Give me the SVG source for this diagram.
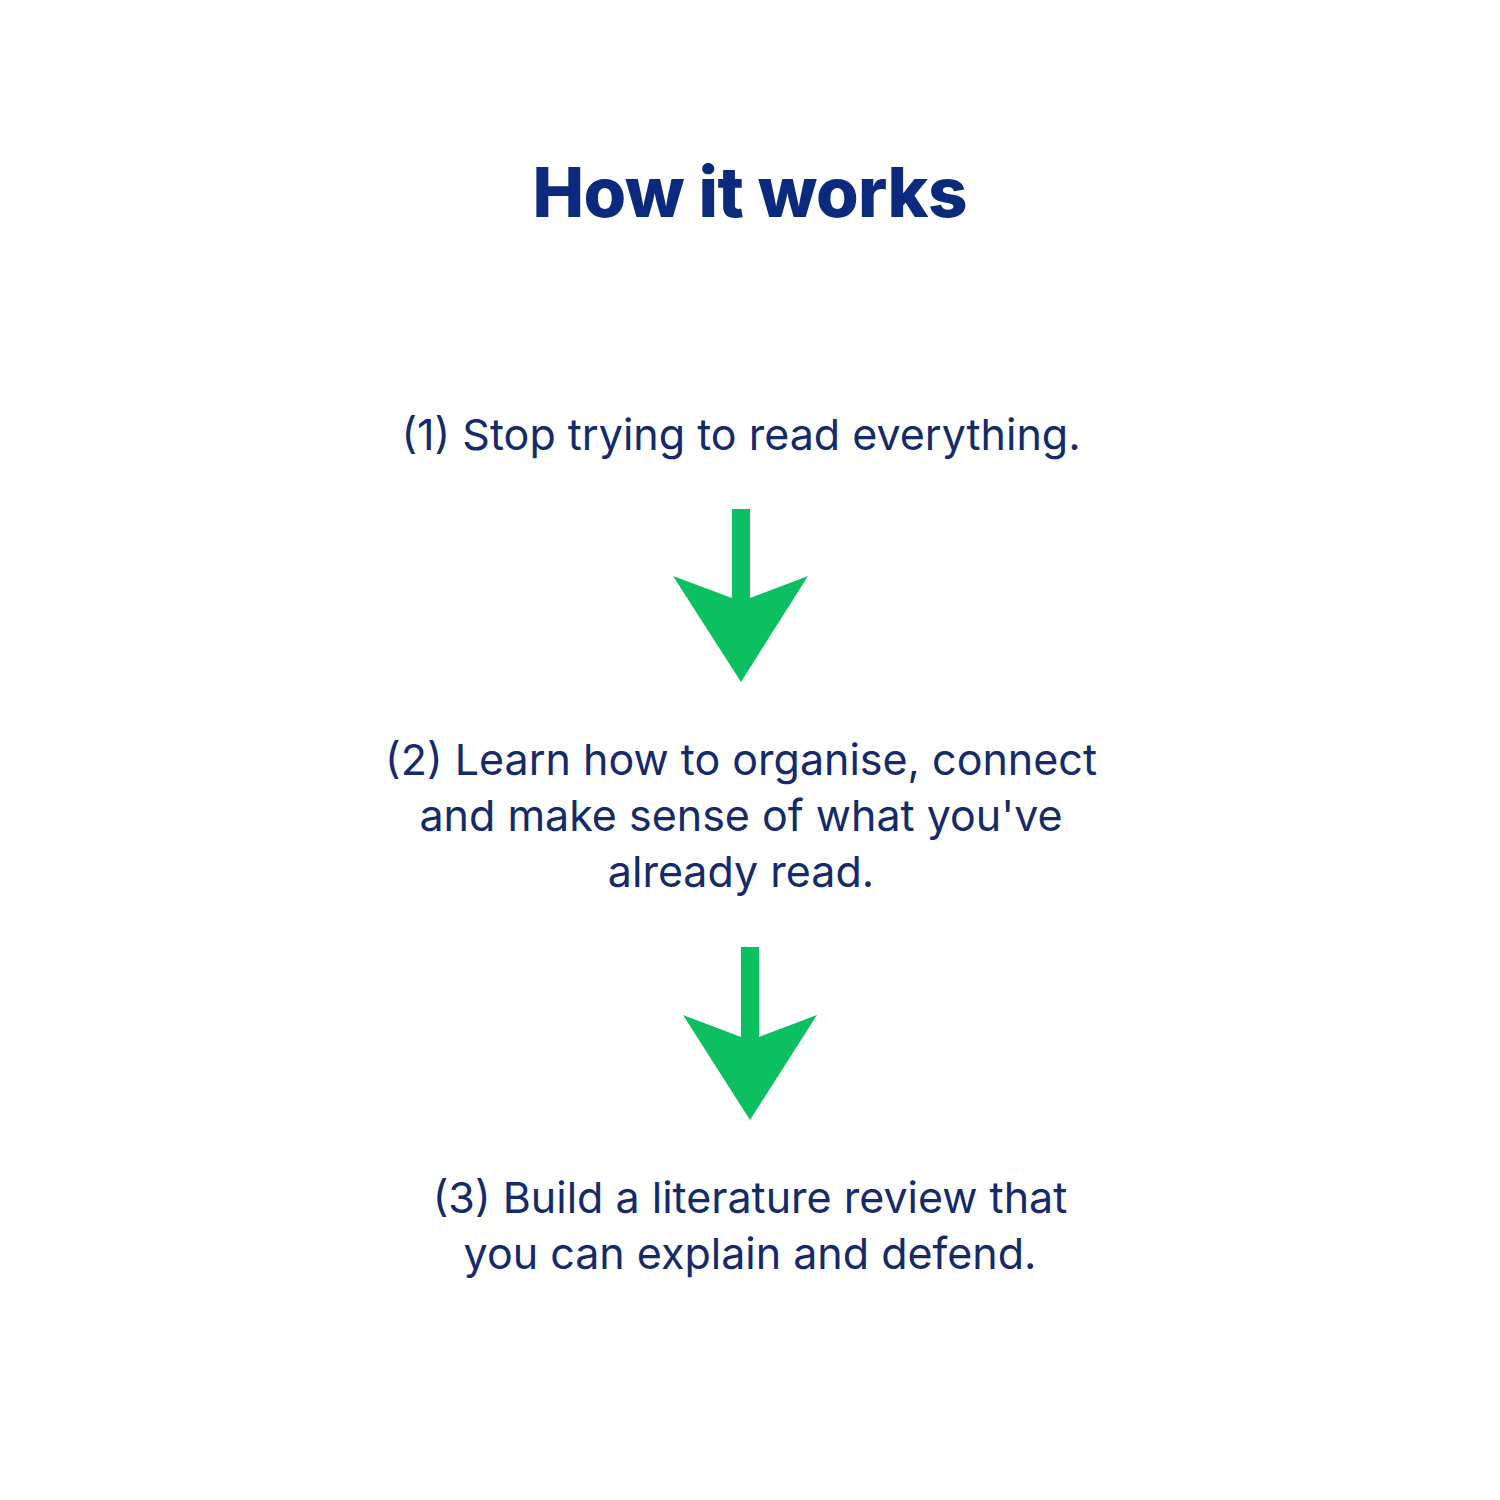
<svg xmlns="http://www.w3.org/2000/svg" width="1500" height="1500" viewBox="0 0 1500 1500">
<style>
.title{font-family:Inter,"Liberation Sans",sans-serif;font-weight:800;font-size:69px;fill:#0b2a7e;text-anchor:middle}
.body{font-family:Inter,"Liberation Sans",sans-serif;font-weight:400;font-size:43px;fill:#142a6a;text-anchor:middle}
.arrow{fill:#0cc062}
</style>
<rect width="1500" height="1500" fill="#ffffff"/>
<g id="title"><text class="title" x="750" y="217" textLength="435">How it works</text></g>
<g id="step1"><text class="body" x="741" y="450">(1) Stop trying to read everything.</text></g>
<g id="step2"><text class="body" x="741" y="775">(2) Learn how to organise, connect</text><text class="body" x="741" y="831">and make sense of what you've</text><text class="body" x="741" y="887">already read.</text></g>
<g id="step3"><text class="body" x="750" y="1213">(3) Build a literature review that</text><text class="body" x="750" y="1269">you can explain and defend.</text></g>
<g id="connectors">
<polygon class="arrow" points="732,509 750,509 750,598 808,576 741,682 673,576 732,598"/>
<polygon class="arrow" points="741,947 759,947 759,1037 817,1015 750,1120 683,1015 741,1037"/>
</g>
</svg>
